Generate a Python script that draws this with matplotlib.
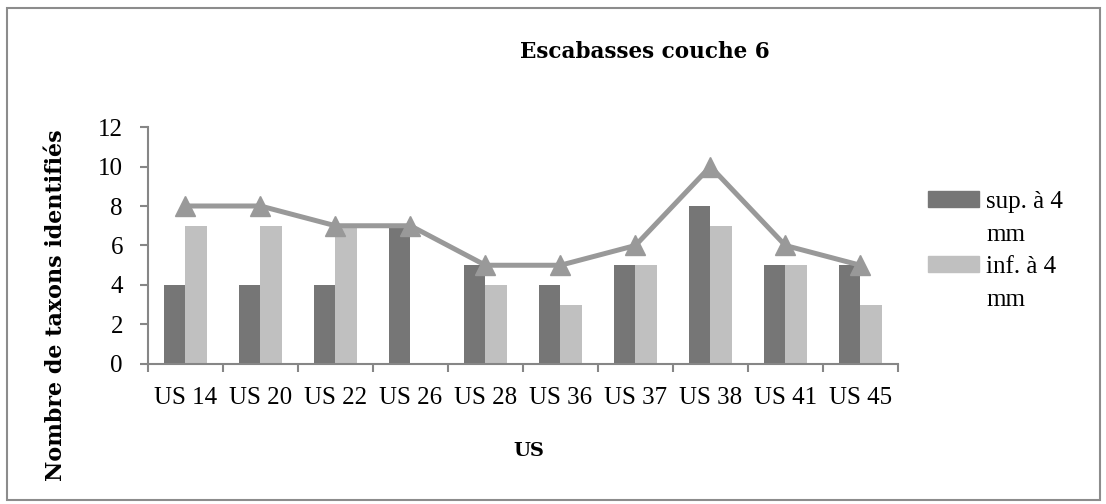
#!/usr/bin/env python3
"""Taxa identified per US, Escabasses layer 6 (bars by mesh size + total line)."""

import matplotlib.pyplot as plt
import numpy as np
from matplotlib.lines import Line2D
from matplotlib.patches import Patch, Rectangle

categories = ["US 14", "US 20", "US 22", "US 26", "US 28", "US 36", "US 37", "US 38", "US 41", "US 45"]
sup_4mm = [4, 4, 4, 7, 5, 4, 5, 8, 5, 5]
inf_4mm = [7, 7, 7, 0, 4, 3, 5, 7, 5, 3]
total = [8, 8, 7, 7, 5, 5, 6, 10, 6, 5]

DARK = "#767676"
LIGHT = "#c0c0c0"
LINE = "#999999"
AXIS = "#868686"

REGULAR = ["Liberation Serif", "DejaVu Serif"]
BOLD = ["DejaVu Serif"]

plt.rcParams["font.family"] = REGULAR


def main() -> None:
    fig = plt.figure(figsize=(11.06, 5.04), dpi=100)
    ax = fig.add_axes([0.1338, 0.2778, 0.678, 0.4702])

    x = np.arange(len(categories))
    width = 0.287
    ax.bar(x - width / 2, sup_4mm, width=width, color=DARK, zorder=2)
    ax.bar(x + width / 2, inf_4mm, width=width, color=LIGHT, zorder=2)
    ax.plot(x, total, color=LINE, linewidth=3.6, marker="^", markersize=14.5,
            markerfacecolor=LINE, markeredgecolor=LINE, zorder=3)

    ax.set_xlim(-0.5, len(categories) - 0.5)
    ax.set_ylim(0, 12)
    ax.set_yticks(range(0, 13, 2))
    ax.set_xticks(x)
    ax.set_xticklabels(categories)
    ax.set_xticks(np.arange(-0.5, len(categories)), minor=True)
    ax.tick_params(axis="x", which="major", length=0, pad=16.5, labelsize=18)
    ax.tick_params(axis="x", which="minor", length=6, width=1.5, color=AXIS, direction="out")
    ax.tick_params(axis="y", length=6, width=1.5, color=AXIS, labelsize=18, pad=12)

    for side in ("top", "right"):
        ax.spines[side].set_visible(False)
    for side in ("left", "bottom"):
        ax.spines[side].set_color(AXIS)
        ax.spines[side].set_linewidth(1.5)

    # chart and axis titles
    fig.text(0.583, 0.897, "Escabasses couche 6", ha="center", va="center",
             fontsize=15.5, fontweight="bold", family=BOLD)
    fig.text(0.478, 0.105, "US", ha="center", va="center",
             fontsize=14, fontweight="bold", family=BOLD)
    fig.text(0.051, 0.395, "Nombre de taxons identifiés", ha="center", va="center",
             rotation=90, fontsize=16, fontweight="bold", family=BOLD)

    # legend: one row per text line so each swatch sits on its first line
    blank = Line2D([], [], linestyle="none")
    handles = [Patch(color=DARK), blank, Patch(color=LIGHT), blank]
    labels = ["sup. à 4", "mm", "inf. à 4", "mm"]
    fig.legend(handles, labels, loc="upper left", bbox_to_anchor=(0.839, 0.621),
               frameon=False, fontsize=18, handlelength=2.05, handleheight=0.6,
               handletextpad=0.28, labelspacing=0.42, borderpad=0, borderaxespad=0)

    # thin grey frame around the whole chart area
    fig.add_artist(Rectangle((0.0063, 0.008), 0.988, 0.976, transform=fig.transFigure,
                             fill=False, edgecolor="#8c8c8c", linewidth=1.5))

    fig.savefig("out.png", dpi=100)
    plt.close(fig)


if __name__ == "__main__":
    main()
